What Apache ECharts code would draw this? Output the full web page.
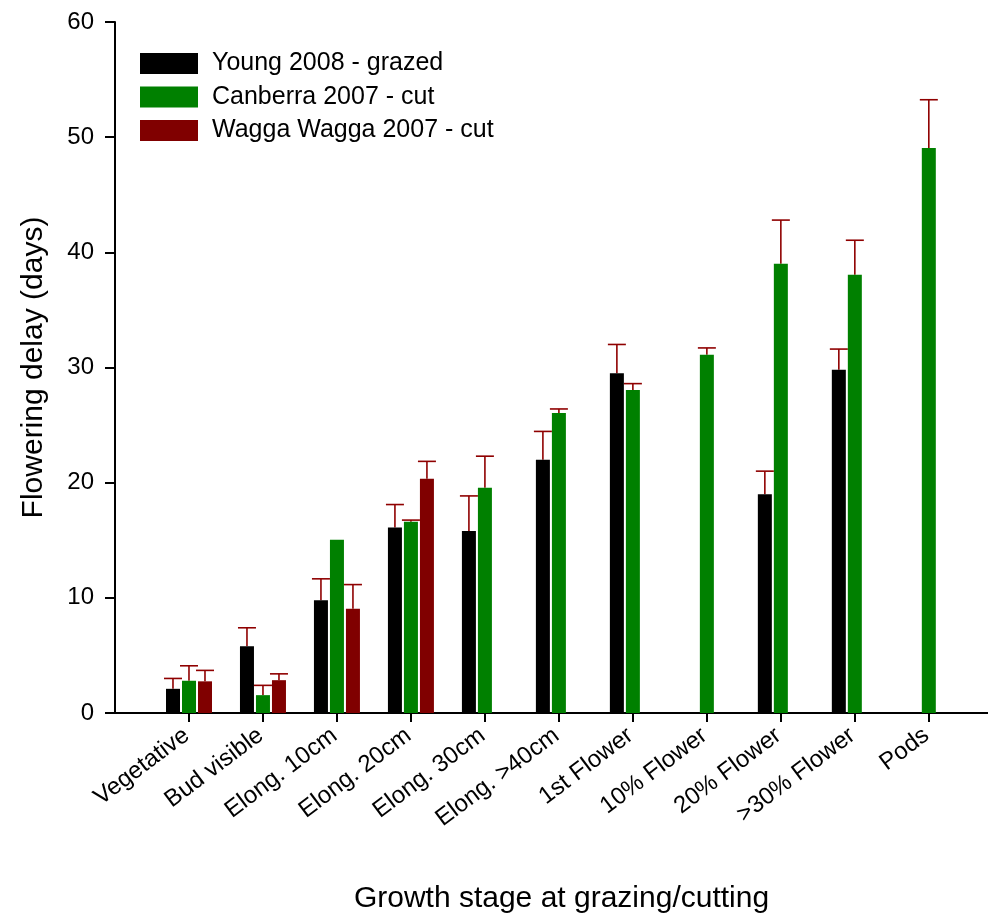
<!DOCTYPE html>
<html>
<head>
<meta charset="utf-8">
<script src="https://cdn.jsdelivr.net/npm/echarts@6/dist/echarts.min.js"></script>
<style>html,body{margin:0;padding:0;background:#fff}#c{width:988px;height:917px}</style>
</head>
<body>
<div id="c"></div>
<script>
const categories = ['Vegetative','Bud visible','Elong. 10cm','Elong. 20cm','Elong. 30cm','Elong. >40cm','1st Flower','10% Flower','20% Flower','>30% Flower','Pods'];
const seriesNames = ['Young 2008 - grazed','Canberra 2007 - cut','Wagga Wagga 2007 - cut'];
const young       = [2.1, 5.8, 9.8, 16.1, 15.8, 22.0, 29.5, null, 19.0, 29.8, null];
const youngErr    = [0.9, 1.6, 1.85, 2.0, 3.05, 2.45, 2.5, null, 2.0, 1.8, null];
const canberra    = [2.8, 1.55, 15.05, 16.6, 19.55, 26.05, 28.05, 31.1, 39.0, 38.05, 49.05];
const canberraErr = [1.3, 0.85, 0, 0.15, 2.75, 0.35, 0.55, 0.6, 3.8, 3.0, 4.2];
const wagga       = [2.75, 2.85, 9.05, 20.35, null, null, null, null, null, null, null];
const waggaErr    = [0.95, 0.55, 2.1, 1.5, null, null, null, null, null, null, null];
const yTicks = [0, 10, 20, 30, 40, 50, 60];

const values = [young, canberra, wagga];
const errors = [youngErr, canberraErr, waggaErr];
const colors = ['#000000', '#008000', '#800000'];
const errColor = '#8f0000';
const BAR_W = 14, BAR_GAP = 2, CAP = 9;
const FONT = 'Liberation Sans, Arial, sans-serif';

const positions = categories.map((c, i) => i + 1);

const series = [];
values.forEach((vals, k) => {
  series.push({
    name: seriesNames[k],
    type: 'bar',
    barWidth: BAR_W,
    barGap: (BAR_GAP / BAR_W * 100) + '%',
    z: 3,
    itemStyle: { color: colors[k] },
    data: vals.map((v, i) => [positions[i], v == null ? '-' : v])
  });
});
values.forEach((vals, k) => {
  const off = (k - 1) * (BAR_W + BAR_GAP);
  series.push({
    name: 'err' + k,
    type: 'custom',
    z: 2,
    encode: { x: 0, y: 1 },
    data: vals.map((v, i) => [positions[i], v == null ? 0 : v, errors[k][i] || 0]),
    renderItem: function (params, api) {
      const x = api.value(0), y = api.value(1), e = api.value(2);
      if (!e) return;
      const b = api.coord([x, y]);
      const t = api.coord([x, y + e]);
      const cx = b[0] + off;
      const st = { stroke: errColor, lineWidth: 1.6 };
      return {
        type: 'group',
        children: [
          { type: 'line', shape: { x1: cx, y1: b[1], x2: cx, y2: t[1] }, style: st },
          { type: 'line', shape: { x1: cx - CAP, y1: t[1], x2: cx + CAP, y2: t[1] }, style: st }
        ]
      };
    }
  });
});

const chart = echarts.init(document.getElementById('c'), null, { renderer: 'canvas' });
chart.setOption({
  animation: false,
  backgroundColor: '#fff',
  textStyle: { fontFamily: FONT },
  grid: { left: 115, top: 22, right: 0, height: 691, containLabel: false, outerBoundsMode: 'none' },
  legend: {
    data: seriesNames,
    orient: 'vertical',
    left: 135,
    top: 46,
    itemWidth: 58,
    itemHeight: 21,
    itemGap: 8.5,
    icon: 'rect',
    selectedMode: false,
    textStyle: { fontFamily: FONT, fontSize: 25, color: '#000', lineHeight: 24, padding: [0, 0, 0, 9] }
  },
  xAxis: {
    type: 'value',
    min: 0, max: 11.8, interval: 1,
    name: 'Growth stage at grazing/cutting',
    nameLocation: 'middle',
    nameGap: 171,
    nameTextStyle: { fontFamily: FONT, fontSize: 30, color: '#000', padding: [0, 0, 0, 20] },
    splitLine: { show: false },
    axisLine: { show: true, lineStyle: { color: '#000', width: 2 } },
    axisTick: { show: true, customValues: positions, length: 9, lineStyle: { color: '#000', width: 2 } },
    axisLabel: {
      customValues: positions,
      formatter: v => categories[Math.round(v) - 1] || '',
      rotate: 37,
      margin: 18,
      padding: [0, 3, 0, 0],
      fontFamily: FONT, fontSize: 24, color: '#000'
    }
  },
  yAxis: {
    type: 'value',
    min: yTicks[0], max: yTicks[yTicks.length - 1], interval: 10,
    name: 'Flowering delay (days)',
    nameLocation: 'middle',
    nameGap: 66,
    nameTextStyle: { fontFamily: FONT, fontSize: 30, color: '#000' },
    splitLine: { show: false },
    axisLine: { show: true, lineStyle: { color: '#000', width: 2 } },
    axisTick: { show: true, length: 10, lineStyle: { color: '#000', width: 2 } },
    axisLabel: { margin: 21, fontFamily: FONT, fontSize: 24, color: '#000' }
  },
  series: series
});
</script>
</body>
</html>
